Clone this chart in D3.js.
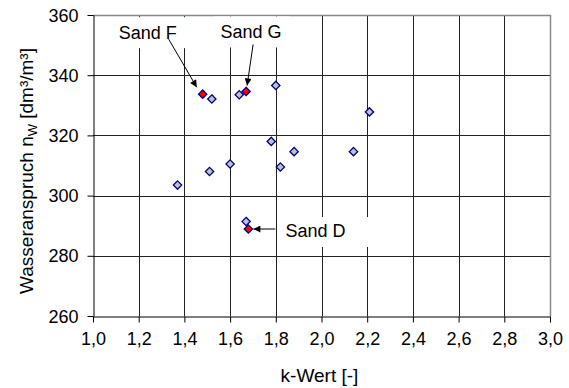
<!DOCTYPE html>
<html>

<head>
    <title>k-Wert</title>
    <script src="https://cdn.jsdelivr.net/npm/d3@7"></script>
    <style>
        body { margin: 0; background: #fff; }
        text { font-family: "Liberation Sans", Arial, sans-serif; }
    </style>
</head>

<body>
    <svg width="569" height="388" id="mainsvg"></svg>
    <script>
        // data
        const kGrey = [1.37, 1.51, 1.60, 1.78, 1.88, 1.82, 1.67, 1.52, 1.64, 1.80, 2.21, 2.14];
        const nwGrey = [303.5, 308.0, 310.5, 318.0, 314.6, 309.5, 291.4, 332.1, 333.5, 336.6, 327.8, 314.6];
        const sandNames = ['Sand F', 'Sand G', 'Sand D'];
        const kSand = [1.48, 1.67, 1.68];
        const nwSand = [333.7, 334.6, 288.9];
        const xTicks = [1.0, 1.2, 1.4, 1.6, 1.8, 2.0, 2.2, 2.4, 2.6, 2.8, 3.0];
        const yTicks = [260, 280, 300, 320, 340, 360];

        // label layout (pixel offsets from the marked point)
        const labelLayout = [
            { tx: -55, ty: -55, anchor: 'middle', from: [-34, -55], to: [-6, -7], box: [-91, -77, 78, 31] },
            { tx: 5, ty: -53, anchor: 'middle', from: [7, -47], to: [1, -6], box: [-32, -75, 76, 31] },
            { tx: 37, ty: 8, anchor: 'start', from: [27, 0], to: [5, 0], box: [29, -12, 95, 30] }
        ];

        const svg = d3.select('svg');
        const margin = { left: 93, right: 19, top: 15, bottom: 72 };
        const width = +svg.attr('width');
        const height = +svg.attr('height');

        const x = d3.scaleLinear().domain([1, 3]).range([margin.left, width - margin.right]);
        const y = d3.scaleLinear().domain([260, 360]).range([height - margin.bottom, margin.top]);
        const fmt = d => d3.format('.1f')(d).replace('.', ',');

        // grid
        svg.append('g').selectAll('line').data(xTicks.slice(1)).join('line')
            .attr('x1', d => Math.round(x(d)) + 0.5).attr('x2', d => Math.round(x(d)) + 0.5)
            .attr('y1', y(360)).attr('y2', y(260))
            .attr('stroke', '#222').attr('stroke-width', 1);
        svg.append('g').selectAll('line').data(yTicks.slice(1)).join('line')
            .attr('y1', d => Math.round(y(d)) + 0.5).attr('y2', d => Math.round(y(d)) + 0.5)
            .attr('x1', x(1)).attr('x2', x(3))
            .attr('stroke', '#222').attr('stroke-width', 1);
        // top / right frame
        svg.append('path')
            .attr('d', `M${x(1)},${Math.round(y(360)) + 0.5}H${Math.round(x(3)) + 0.5}V${y(260)}`)
            .attr('fill', 'none').attr('stroke', '#888').attr('stroke-width', 1.5);

        // axes
        const xAxis = svg.append('g').attr('transform', `translate(0,${Math.round(y(260)) + 0.5})`)
            .call(d3.axisBottom(x).tickValues(xTicks).tickFormat(fmt).tickSize(6).tickSizeOuter(0));
        const yAxis = svg.append('g').attr('transform', `translate(${Math.round(x(1)) + 0.5},0)`)
            .call(d3.axisLeft(y).tickValues(yTicks).tickSize(6).tickSizeOuter(0));
        [xAxis, yAxis].forEach(g => {
            g.select('.domain').attr('stroke', '#000');
            g.selectAll('.tick line').attr('stroke', '#000');
            g.selectAll('.tick text').attr('fill', '#000')
                .style('font-family', '"Liberation Sans", Arial, sans-serif').style('font-size', '18px');
        });
        xAxis.selectAll('.tick text').attr('y', 28.5).attr('dy', 0);
        yAxis.selectAll('.tick text').attr('x', -15).attr('dy', '0.34em');

        // axis titles
        svg.append('text').attr('x', x(2) - 2).attr('y', 382).attr('text-anchor', 'middle')
            .style('font-size', '19px').text('k-Wert [-]');
        const yt = svg.append('text').attr('transform', 'translate(33,171) rotate(-90)')
            .attr('text-anchor', 'middle').style('font-size', '19px');
        yt.append('tspan').text('Wasseranspruch n');
        yt.append('tspan').attr('dy', 4).style('font-size', '13px').text('W');
        yt.append('tspan').attr('dy', -4).text(' [dm³/m³]');

        // markers
        const diamond = d3.symbol().type(d3.symbolDiamond2).size(44);
        const grey = kGrey.map((k, i) => ({ k, nw: nwGrey[i] }));
        const sand = kSand.map((k, i) => ({ k, nw: nwSand[i], name: sandNames[i], lay: labelLayout[i] }));

        // label boxes go under markers
        const lab = svg.append('g').selectAll('g').data(sand).join('g')
            .attr('transform', d => `translate(${x(d.k)},${y(d.nw)})`);
        lab.append('rect')
            .attr('x', d => d.lay.box[0]).attr('y', d => d.lay.box[1])
            .attr('width', d => d.lay.box[2]).attr('height', d => d.lay.box[3])
            .attr('fill', '#fff');
        lab.append('text').attr('x', d => d.lay.tx).attr('y', d => d.lay.ty)
            .attr('text-anchor', d => d.lay.anchor).style('font-size', '18px').text(d => d.name);

        svg.append('defs').append('marker').attr('id', 'arr')
            .attr('viewBox', '0 0 10 10').attr('refX', 10).attr('refY', 5)
            .attr('markerWidth', 9).attr('markerHeight', 7).attr('markerUnits', 'userSpaceOnUse')
            .attr('orient', 'auto')
            .append('path').attr('d', 'M0,0L10,5L0,10Z').attr('fill', '#000');
        lab.append('line')
            .attr('x1', d => d.lay.from[0]).attr('y1', d => d.lay.from[1])
            .attr('x2', d => d.lay.to[0]).attr('y2', d => d.lay.to[1])
            .attr('stroke', '#000').attr('stroke-width', 1).attr('marker-end', 'url(#arr)');

        svg.append('g').selectAll('path').data(grey).join('path')
            .attr('transform', d => `translate(${x(d.k)},${y(d.nw)})`)
            .attr('d', diamond).attr('fill', '#c0c0c8').attr('stroke', '#000080').attr('stroke-width', 1.3);
        svg.append('g').selectAll('path').data(sand).join('path')
            .attr('transform', d => `translate(${x(d.k)},${y(d.nw)})`)
            .attr('d', diamond).attr('fill', '#ff0000').attr('stroke', '#000080').attr('stroke-width', 1.3);
    </script>
</body>

</html>
